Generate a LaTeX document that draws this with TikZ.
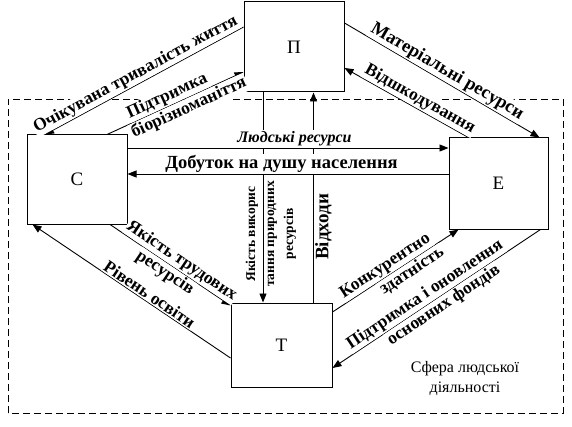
\documentclass[tikz,border=0pt]{standalone}
\usepackage{fontspec}
\setmainfont{Liberation Serif}
\usetikzlibrary{arrows.meta,calc}
\begin{document}
\begin{tikzpicture}[x=1pt,y=1pt,
  box/.style={draw, line width=1pt, inner sep=0pt, font=\fontsize{19}{21}\selectfont},
  conn/.style={line width=0.9pt},
  tip/.style={-{Triangle[length=9pt,width=7pt]}},
  rtip/.style={{Triangle[length=9pt,width=7pt]}-},
  lbl/.style={font=\fontsize{17.5}{19}\selectfont\bfseries, inner sep=1.2pt, sloped, fill=white},
  biglbl/.style={lbl, font=\fontsize{18.5}{20}\selectfont\bfseries},
  ilbl/.style={font=\fontsize{16}{18}\selectfont\bfseries\itshape, inner sep=1.5pt, fill=white},
  frame/.style={line width=0.9pt, dash pattern=on 7pt off 4pt}
]
\useasboundingbox (0,0) rectangle (572,426);
\draw[frame] (8,13) rectangle (563,327);

\node[box, minimum width=100pt, minimum height=90pt] (P) at (294,379) {П};
\node[box, minimum width=100pt, minimum height=89pt] (C) at (77,246.5) {С};
\node[box, minimum width=99pt, minimum height=91pt] (E) at (498.5,242.5) {Е};
\node[box, minimum width=101pt, minimum height=84pt] (T) at (281.5,81) {Т};

% vertical connectors
\draw[conn, tip] ([xshift=-31]P.south) -- ([xshift=-31]P.south |- T.north);
\draw[conn, tip] ([xshift=32]T.north) -- ([xshift=32]T.north |- P.south)
  node[lbl, fill=none, below, pos=0.36, font=\fontsize{19}{21}\selectfont\bfseries] (l8) {Відходи};
\node[rotate=90, align=center, font=\fontsize{13.5}{19}\selectfont\bfseries] (l7)
  at (271,192) {Якість викорис\\тання природних\\ресурсів};

% horizontal connectors
\draw[conn, tip] ([yshift=31.5]C.east) -- ([yshift=31.5]C.east -| E.west)
  node[ilbl, above, pos=0.52] (l5) {Людські ресурси};
\draw[conn, rtip] ([yshift=9.5]E.west -| C.east) -- ([yshift=9.5]E.west)
  node[biglbl, above, pos=0.48] (l6) {Добуток на душу населення};

% upper slanted connectors
\draw[conn, rtip] ([xshift=-32]C.north) -- ([yshift=20]P.west)
  node[lbl, above, pos=0.48] (l1) {Очікувана тривалість життя};
\draw[conn, tip] ([xshift=30]C.north) -- ([yshift=-25]P.west)
  node[lbl, above, pos=0.47] (l2a) {Підтримка}
  node[lbl, below, pos=0.57] (l2b) {біорізноманіття};
\draw[conn, tip] ([yshift=24]P.east) -- ([xshift=41]E.north)
  node[biglbl, above, pos=0.5] (l3) {Матеріальні ресурси};
\draw[conn, rtip] ([yshift=-21]P.east) -- ([xshift=-30]E.north)
  node[lbl, above, pos=0.57] (l4) {Відшкодування};

% lower slanted connectors
\draw[conn, tip] ([xshift=33]C.south) -- ([yshift=-3]T.north west)
  node[lbl, above, pos=0.55] (l9a) {Якість трудових}
  node[lbl, below, pos=0.5] (l9b) {ресурсів};
\draw[conn, rtip] ([xshift=6]C.south west) -- ([yshift=-13]T.west)
  node[lbl, above, pos=0.57] (l10) {Рівень освіти};
\draw[conn, tip] ([yshift=33]T.east) -- ([xshift=-40]E.south)
  node[lbl, above, pos=0.46] (l11a) {Конкурентно}
  node[lbl, below, pos=0.59] (l11b) {здатність};
\draw[conn, rtip] ([yshift=-23]T.east) -- ([xshift=-8]E.south east)
  node[lbl, above, pos=0.47] (l12a) {Підтримка і оновлення}
  node[lbl, below, pos=0.51] (l12b) {основних фондів};

\node[font=\fontsize{16}{20}\selectfont, align=center] (sph) at (465,48)
  {Сфера людської\\діяльності};
\end{tikzpicture}
\end{document}
